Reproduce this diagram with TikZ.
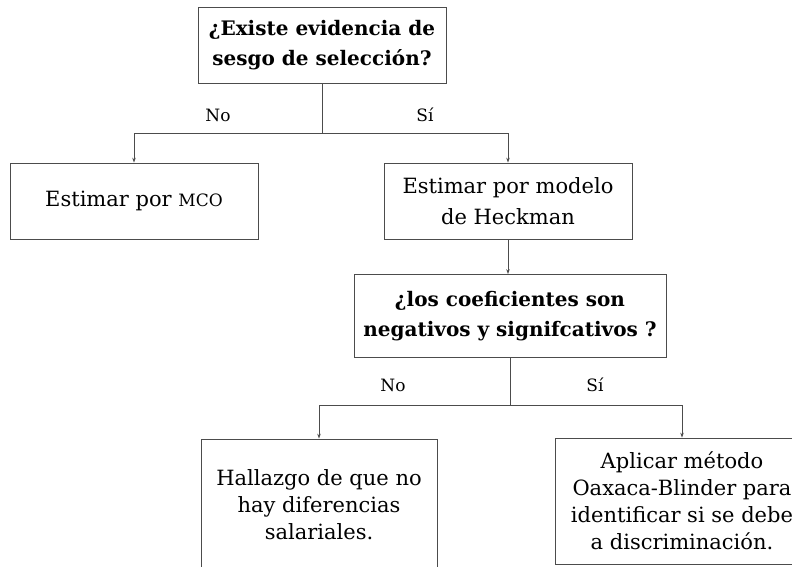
\documentclass[tikz,border=0pt]{standalone}
\usepackage{fontspec}
\setmainfont{DejaVu Serif}
\usetikzlibrary{arrows.meta, positioning}

\tikzset{
  caja/.style={draw=black!70, line width=0.8pt, align=center, inner sep=0pt,
    font=\fontsize{21}{27}\selectfont},
  pregunta/.style={caja, font=\fontsize{20}{30}\selectfont\bfseries},
  flecha/.style={draw=black!70, line width=0.7pt, -{Stealth[length=5pt,width=3.5pt]}},
  linea/.style={draw=black!70, line width=0.7pt},
  etiqueta/.style={font=\fontsize{17}{17}\selectfont},
}

\begin{document}
\begin{tikzpicture}[x=1pt, y=-1pt]
	\useasboundingbox (0,0) rectangle (792,566);
	\clip (0,0) rectangle (792,566);

	% Pregunta inicial
	\node[pregunta, minimum width=248pt, minimum height=76pt] (sesgo) at (322,45)
		{¿Existe evidencia de\\sesgo de selección?};

	% Opciones del primer nivel
	\node[caja, minimum width=248pt, minimum height=76pt] (mco) at (134,201)
		{Estimar por {\fontsize{17}{17}\selectfont MCO}};
	\node[caja, minimum width=248pt, minimum height=76pt, font=\fontsize{21}{31}\selectfont] (heck) at (508,201)
		{Estimar por modelo\\de Heckman};

	% Segunda pregunta
	\node[pregunta, minimum width=312pt, minimum height=83pt] (coef) at (510,316)
		{¿los coeficientes son\\negativos y signifcativos ?};

	% Resultados finales
	\node[caja, minimum width=236pt, minimum height=132pt] (hallazgo) at (319,505)
		{Hallazgo de que no\\hay diferencias\\salariales.};
	\node[caja, minimum width=254pt, minimum height=126pt] (oaxaca) at (682,501)
		{Aplicar método\\Oaxaca-Blinder para\\identificar si se debe\\a discriminación.};

	% Conectores
	\draw[linea] (sesgo.south) -- ++(0,50) coordinate (j1);
	\draw[flecha] (j1) -| (mco.north);
	\draw[flecha] (j1) -| (heck.north);
	\draw[flecha] (heck.south) -- (heck.south |- coef.north);
	\draw[linea] (coef.south) -- ++(0,47) coordinate (j2);
	\draw[flecha] (j2) -| (hallazgo.north);
	\draw[flecha] (j2) -| (oaxaca.north);

	% Etiquetas
	\node[etiqueta] (no1) at (218,115) {No};
	\node[etiqueta] (si1) at (425,115) {Sí};
	\node[etiqueta] (no2) at (393,385) {No};
	\node[etiqueta] (si2) at (595,385) {Sí};
\end{tikzpicture}
\end{document}
